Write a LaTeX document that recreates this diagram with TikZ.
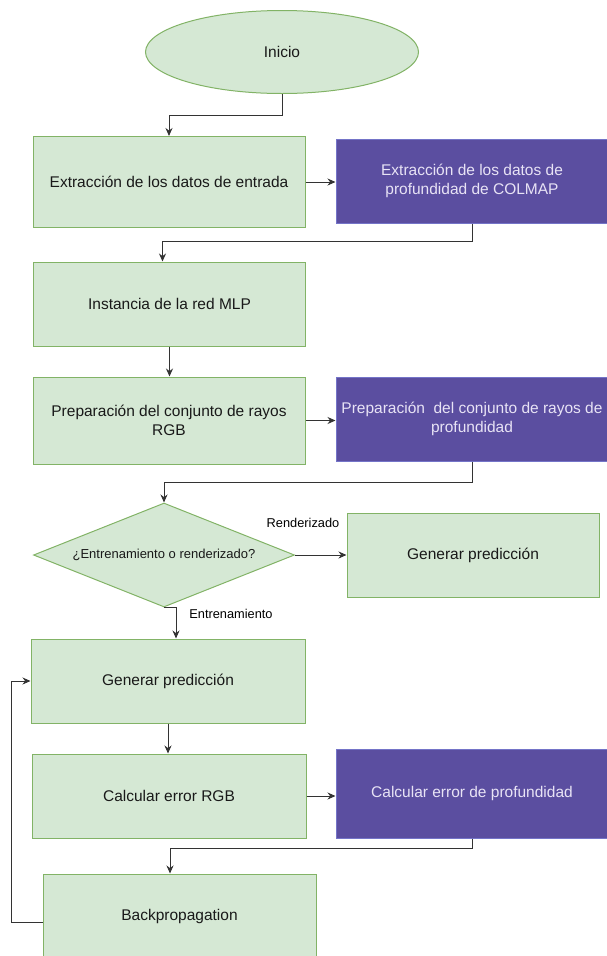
\documentclass[tikz,border=0pt]{standalone}
\usepackage{fontspec}
\setmainfont{Liberation Sans}
\usetikzlibrary{shapes.geometric,arrows.meta}
\definecolor{verde}{HTML}{D5E8D4}
\definecolor{verdeborde}{HTML}{82B366}
\definecolor{morado}{HTML}{5B4EA0}
\definecolor{moradoborde}{HTML}{7474C8}
\definecolor{moradotexto}{HTML}{E8E3F5}
\definecolor{linea}{HTML}{333333}
\tikzset{
  caja/.style={rectangle,draw=verdeborde,fill=verde,line width=1pt,text=black!90,
    minimum width=272pt,minimum height=84pt,align=center,inner sep=0pt,
    font=\fontsize{15.5}{19}\selectfont},
  cajam/.style={caja,draw=moradoborde,fill=morado,text=moradotexto},
  inicio/.style={caja,ellipse,minimum width=273pt,minimum height=83pt},
  decision/.style={caja,diamond,aspect=2.5,minimum width=261pt,minimum height=104pt,
    font=\fontsize{13}{15}\selectfont},
  etiqueta/.style={font=\fontsize{12.8}{14}\selectfont,inner sep=0pt},
  flecha/.style={draw=linea,line width=1pt,-{Stealth[length=8pt,width=7pt]}}
}
\begin{document}
\begin{tikzpicture}[x=1pt,y=-1pt]
      \useasboundingbox (0,0) rectangle (606,956);
      \draw
        (282,52) node[inicio] (ini) {Inicio}
        (169,182) node[caja,minimum height=91pt] (ext) {Extracción de los datos de entrada}
        (472,181) node[cajam] (col) {Extracción de los datos de\\profundidad de COLMAP}
        (169.5,304) node[caja] (mlp) {Instancia de la red MLP}
        (169,420.5) node[caja,minimum height=87pt] (rgb) {Preparación del conjunto de rayos\\RGB}
        (472,419) node[cajam] (prof) {Preparación\ \ del conjunto de rayos de\\profundidad}
        (164,555) node[decision] (dec) {¿Entrenamiento o renderizado?}
        (473,555) node[caja,minimum width=252pt] (ren) {Generar predicción}
        (168,681) node[caja,minimum width=274pt] (gen) {Generar predicción}
        (169,796) node[caja,minimum width=274pt] (err) {Calcular error RGB}
        (472,793.5) node[cajam,minimum height=89pt] (errp) {Calcular error de profundidad}
        (179.5,916) node[caja,minimum width=273pt] (bp) {Backpropagation}
        (303,523) node[etiqueta] (lren) {Renderizado}
        (231,614) node[etiqueta] (lent) {Entrenamiento};
      \begin{scope}[flecha]
        \draw (ini.south) -- ++(0,21) -| (ext.north);
        \draw (ext.east) -- (col.west |- ext.east);
        \draw (col.south) -- ++(0,18) -| ([xshift=-7pt]mlp.north);
        \draw (mlp.south) -- (mlp.south |- rgb.north);
        \draw (rgb.east) -- (prof.west |- rgb.east);
        \draw (prof.south) -- ++(0,21) -| (dec.north);
        \draw (dec.east) -- (ren.west);
        \draw (dec.south) -| ([xshift=8pt]gen.north);
        \draw (gen.south) -- (gen.south |- err.north);
        \draw (err.east) -- (errp.west |- err.east);
        \draw (errp.south) -- ++(0,10) -| ([xshift=-9.5pt]bp.north);
        \draw ([yshift=-6pt]bp.west) -- ++(-31,0) |- (gen.west);
      \end{scope}
    \end{tikzpicture}
\end{document}
